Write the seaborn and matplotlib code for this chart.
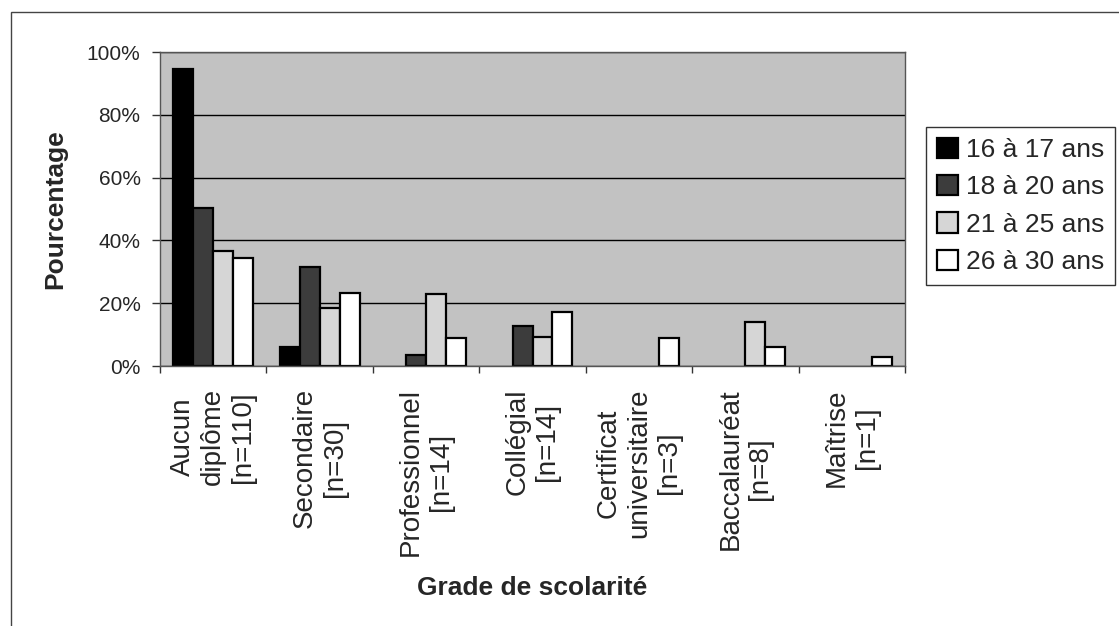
import matplotlib
matplotlib.use("Agg")
import matplotlib.pyplot as plt
from matplotlib.patches import Rectangle, Patch
from matplotlib.ticker import PercentFormatter
import pandas as pd
import seaborn as sns

# Data (in %)
grades = ["Aucun\ndiplôme\n[n=110]", "Secondaire\n[n=30]", "Professionnel\n[n=14]",
          "Collégial\n[n=14]", "Certificat\nuniversitaire\n[n=3]",
          "Baccalauréat\n[n=8]", "Maîtrise\n[n=1]"]
ages = ["16 à 17 ans", "18 à 20 ans", "21 à 25 ans", "26 à 30 ans"]
pct_16_17 = [94.6, 6.0, 0, 0, 0, 0, 0]
pct_18_20 = [50.3, 31.4, 3.4, 12.7, 0, 0, 0]
pct_21_25 = [36.5, 18.6, 22.9, 9.2, 0, 14.0, 0]
pct_26_30 = [34.4, 23.2, 8.9, 17.3, 8.9, 5.9, 3.0]
y_ticks = [0, 20, 40, 60, 80, 100]

colors = ["#000000", "#3c3c3c", "#d6d6d6", "#ffffff"]

# Long-form table for seaborn
rows = []
for age, vals in zip(ages, [pct_16_17, pct_18_20, pct_21_25, pct_26_30]):
    for g, v in zip(grades, vals):
        rows.append({"grade": g, "age": age, "pct": v})
df = pd.DataFrame(rows)

sns.set_theme(style="white")
plt.rcParams["font.family"] = ["Liberation Sans", "DejaVu Sans"]

fig = plt.figure(figsize=(11.19, 6.26), dpi=100)
ax = fig.add_axes([160 / 1119, 1 - 366 / 626, 745 / 1119, 314 / 626])
ax.set_facecolor("#c2c2c2")

sns.barplot(data=df, x="grade", y="pct", hue="age", order=grades, hue_order=ages,
            palette=colors, edgecolor="black", linewidth=1.6, width=0.75,
            saturation=1, legend=False, ax=ax)

# empty bars are not drawn in the original
for bar in ax.patches:
    if bar.get_height() == 0:
        bar.set_visible(False)

ax.set_ylim(0, 100)
ax.set_xlim(-0.5, len(grades) - 0.5)
ax.set_yticks(y_ticks)
ax.yaxis.set_major_formatter(PercentFormatter(decimals=0))
ax.yaxis.grid(True, color="black", linewidth=1)
ax.set_axisbelow(True)

# category labels, ticks at the group boundaries
ax.set_xticks(range(len(grades)))
ax.set_xticklabels(grades, rotation=90, ha="center", va="top",
                   multialignment="center", fontsize=20)
ax.set_xticks([i - 0.5 for i in range(len(grades) + 1)], minor=True)
ax.tick_params(axis="x", which="major", length=0, pad=16)
ax.tick_params(axis="x", which="minor", bottom=True, length=5, width=1, color="#333333")
ax.tick_params(axis="y", left=True, length=6, width=1, color="#333333", labelsize=15, pad=8)

for side in ["left", "bottom", "right", "top"]:
    ax.spines[side].set_visible(True)
    ax.spines[side].set_color("#555555")
    ax.spines[side].set_linewidth(1)

ax.set_xlabel("Grade de scolarité", fontsize=19, fontweight="bold", labelpad=14)
ax.set_ylabel("Pourcentage", fontsize=19, fontweight="bold", labelpad=14)

# legend
handles = [Patch(facecolor=c, edgecolor="black", linewidth=1.6) for c in colors]
leg = fig.legend(handles, ages, loc="upper left",
                 bbox_to_anchor=(926 / 1119, 1 - 127 / 626), fontsize=19,
                 frameon=True, fancybox=False, edgecolor="black",
                 handlelength=0.8, handleheight=0.8, handletextpad=0.3,
                 labelspacing=0.5, borderpad=0.4, borderaxespad=0)
leg.get_frame().set_linewidth(1)

# outer chart frame
fig.patches.append(Rectangle((11 / 1119, -0.1), 1.2, 1.1 - 12 / 626,
                             transform=fig.transFigure, fill=False,
                             edgecolor="#444444", linewidth=1))

fig.savefig("out.png", dpi=100)
